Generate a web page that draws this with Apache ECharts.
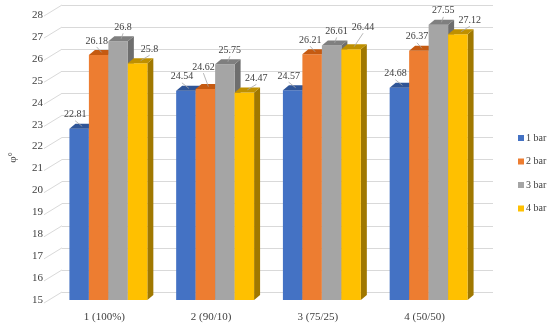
<!DOCTYPE html>
<html>
<head>
<meta charset="utf-8">
<script src="https://cdn.jsdelivr.net/npm/echarts@6/dist/echarts.min.js"></script>
<style>html,body{margin:0;padding:0;background:#fff;}#c{width:550px;height:329px;}</style>
</head>
<body>
<div id="c"></div>
<script>
const categories = ['1 (100%)', '2 (90/10)', '3 (75/25)', '4 (50/50)'];
const seriesNames = ['1 bar', '2 bar', '3 bar', '4 bar'];
const bar1 = [22.81, 24.54, 24.57, 24.68];
const bar2 = [26.18, 24.62, 26.21, 26.37];
const bar3 = [26.8, 25.75, 26.61, 27.55];
const bar4 = [25.8, 24.47, 26.44, 27.12];
const yTicks = [15, 16, 17, 18, 19, 20, 21, 22, 23, 24, 25, 26, 27, 28];

const values = [bar1, bar2, bar3, bar4];
const frontColors = ['#4472C4', '#ED7D31', '#A5A5A5', '#FFC000'];
const topColors = ['#2F5597', '#C55A11', '#7F7F7F', '#BF9000'];
const sideColors = ['#27477E', '#A04B0E', '#6E6E6E', '#A07800'];
const labelShift = [-4, -2, 5, 12];
const FONT = '"Liberation Serif", "Times New Roman", serif';
const DX = 6, DY = 5;

function makeRender(s) {
  return function (params, api) {
    const ci = api.value(0);
    const v = api.value(1);
    const top = api.coord([ci, v]);
    const base = api.coord([ci, 15]);
    const band = api.size([1, 0])[0];
    const gw = band * 0.73;
    const bw = gw / 4;
    const x0 = top[0] - gw / 2 + s * bw;
    const x1 = x0 + bw;
    const yt = top[1], yb = base[1];
    const cx = (x0 + x1) / 2;
    // lift a label when it would collide with the neighbour's label
    let lift = 0;
    if (s > 0 && Math.abs(values[s - 1][ci] - v) < 0.3) lift = 8;
    const lx = cx + labelShift[s];
    const ly = yt - 14 - lift;
    return {
      type: 'group',
      children: [
        { type: 'polygon', shape: { points: [[x1, yt], [x1 + DX, yt - DY], [x1 + DX, yb - DY], [x1, yb]] }, style: { fill: sideColors[s] } },
        { type: 'rect', shape: { x: x0, y: yt, width: bw, height: yb - yt }, style: { fill: frontColors[s] } },
        { type: 'polygon', shape: { points: [[x0, yt], [x1, yt], [x1 + DX, yt - DY], [x0 + DX, yt - DY]] }, style: { fill: topColors[s] } },
        { type: 'line', shape: { x1: lx, y1: ly + 6, x2: cx + DX / 2, y2: yt - DY / 2 }, style: { stroke: '#A6A6A6', lineWidth: 0.8 }, z2: 90 },
        { type: 'text', x: lx, y: ly, z2: 100, style: { text: String(v), fill: '#404040', font: '10px ' + FONT, align: 'center', verticalAlign: 'middle' } }
      ]
    };
  };
}

const barSeries = values.map((arr, s) => ({
  name: seriesNames[s],
  type: 'custom',
  xAxisIndex: 0,
  yAxisIndex: 0,
  z: 3,
  itemStyle: { color: frontColors[s] },
  renderItem: makeRender(s),
  encode: { x: 0, y: 1 },
  data: arr.map((v, i) => [i, v])
}));

const diagSeries = {
  type: 'custom',
  xAxisIndex: 1,
  yAxisIndex: 1,
  z: 1,
  silent: true,
  renderItem: function (params, api) {
    const p = api.coord([0, api.value(0)]);
    return { type: 'line', shape: { x1: p[0] - 18, y1: p[1] + 11, x2: p[0], y2: p[1] }, style: { stroke: '#D9D9D9', lineWidth: 1 } };
  },
  data: yTicks.map(v => [v])
};

const chart = echarts.init(document.getElementById('c'), null, { renderer: 'canvas' });
chart.setOption({
  animation: false,
  backgroundColor: '#fff',
  grid: [
    { left: 48, right: 68, top: 15, bottom: 29 },
    { left: 62, right: 57, top: 5, bottom: 37 }
  ],
  legend: {
    orient: 'vertical',
    left: 513,
    top: 128,
    itemWidth: 6,
    itemHeight: 6,
    itemGap: 13.5,
    icon: 'rect',
    data: seriesNames,
    textStyle: { fontFamily: FONT, fontSize: 10, color: '#404040', padding: [0, 0, 0, -3] }
  },
  xAxis: [
    {
      gridIndex: 0, type: 'category', data: categories,
      axisLine: { show: false }, axisTick: { show: false }, splitLine: { show: false },
      axisLabel: { fontFamily: FONT, fontSize: 11, color: '#404040', margin: 12, padding: [0, 8, 0, 0] }
    },
    { gridIndex: 1, type: 'value', min: 0, max: 1, show: false }
  ],
  yAxis: [
    {
      gridIndex: 0, type: 'value', min: 15, max: 28, interval: 1,
      name: 'φ°', nameLocation: 'middle', nameGap: 36, nameRotate: 90,
      nameTextStyle: { fontFamily: FONT, fontSize: 11, color: '#404040' },
      axisLine: { show: false }, axisTick: { show: false }, splitLine: { show: false },
      axisLabel: { fontFamily: FONT, fontSize: 11, color: '#404040', margin: 12, padding: [6, 0, 0, 0] }
    },
    {
      gridIndex: 1, type: 'value', min: 15, max: 28, interval: 1,
      axisLine: { show: false }, axisTick: { show: false }, axisLabel: { show: false },
      splitLine: { show: true, lineStyle: { color: '#D9D9D9', width: 1 } }
    }
  ],
  series: [diagSeries].concat(barSeries)
});
</script>
</body>
</html>
